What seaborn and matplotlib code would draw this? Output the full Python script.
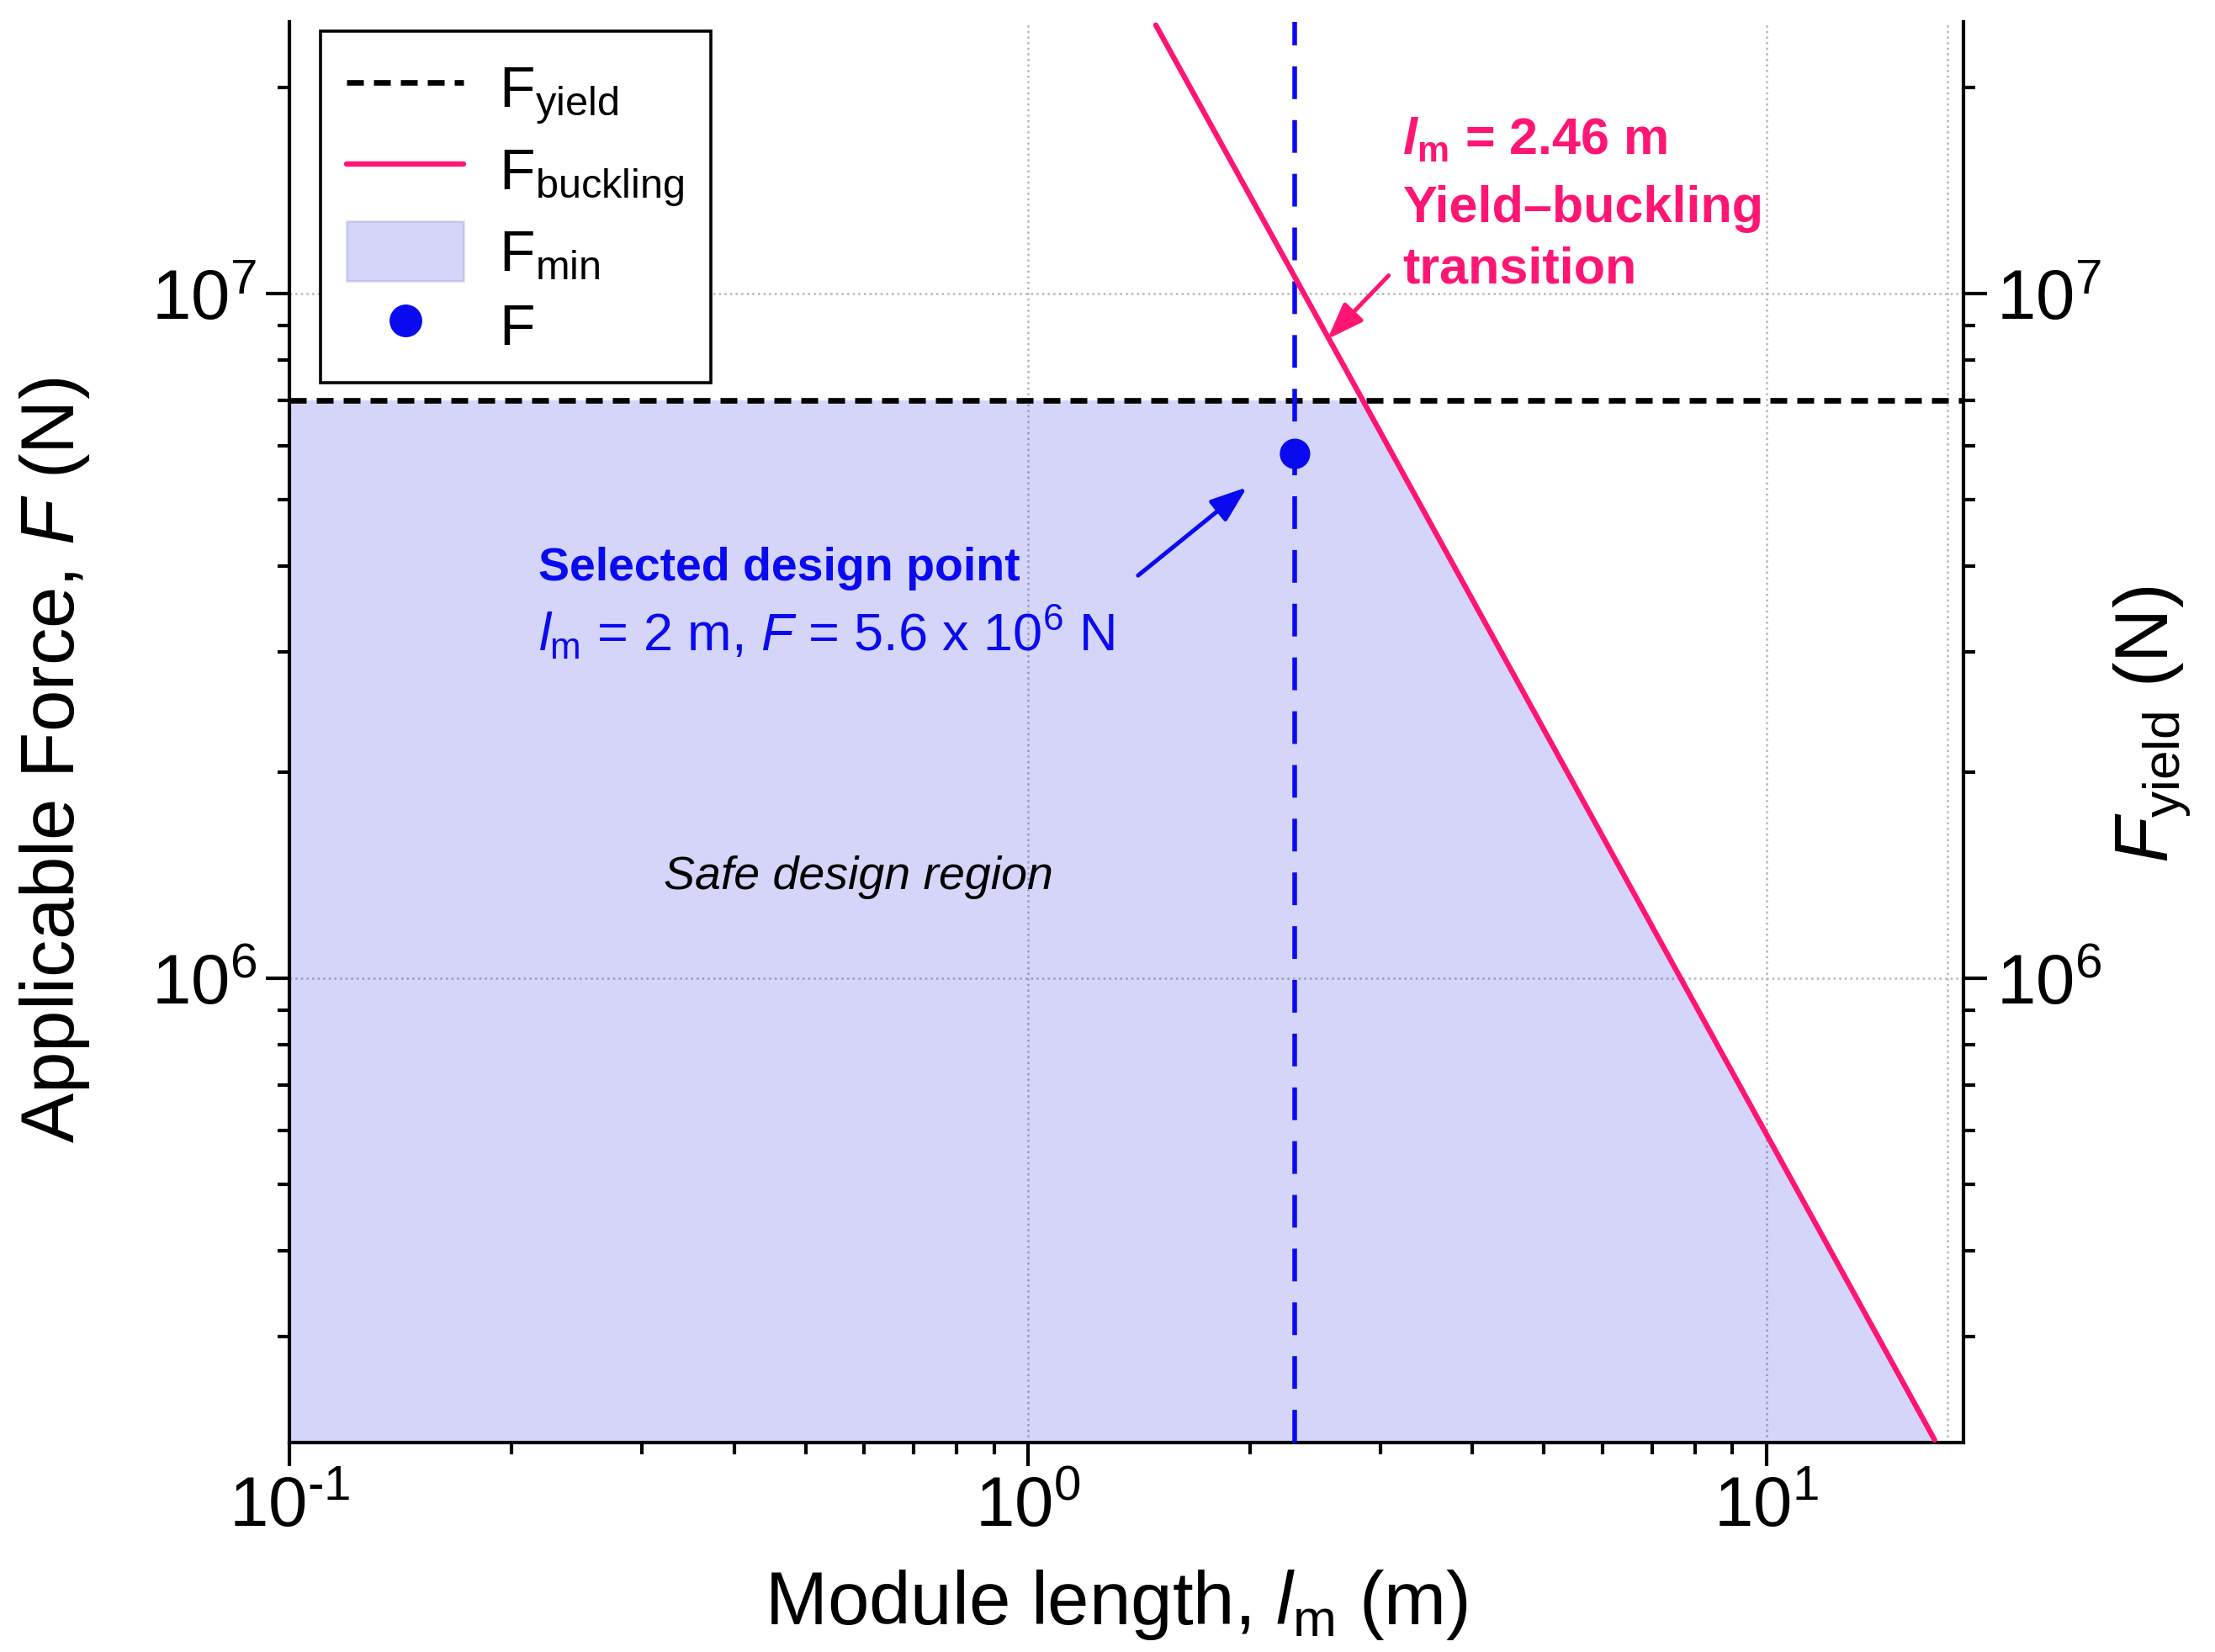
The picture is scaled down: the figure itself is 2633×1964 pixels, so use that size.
import numpy as np
import matplotlib
matplotlib.use('Agg')
import matplotlib.pyplot as plt
import seaborn as sns
from matplotlib.patches import Patch
from matplotlib.lines import Line2D
from matplotlib.ticker import NullFormatter, FuncFormatter

sns.set_style('ticks')
plt.rcParams['font.family'] = ['Liberation Sans', 'DejaVu Sans']
plt.rcParams['mathtext.fontset'] = 'custom'
plt.rcParams['mathtext.rm'] = 'Liberation Sans'
plt.rcParams['mathtext.it'] = 'Liberation Sans:italic'
plt.rcParams['mathtext.bf'] = 'Liberation Sans:bold'
plt.rcParams['mathtext.bfit'] = 'Liberation Sans:italic:bold'
plt.rcParams['axes.unicode_minus'] = False
for k in ['text.color', 'axes.labelcolor', 'xtick.color', 'ytick.color', 'axes.edgecolor']:
    plt.rcParams[k] = 'black'

# axis ranges
l_range = [0.1, 18.5]
F_range = [2.1e5, 2.5e7]

# yield force (horizontal)
F_yield = 7.0e6

# buckling force vs module length
buckling_l = [1.49, 2.84, 7.66, 16.9]
buckling_F = [2.47e7, 7.0e6, 1.0e6, 2.12e5]

# upper edge of the safe region (F_min)
fmin_l = [0.1, 2.84, 7.66, 16.9]
fmin_F = [7.0e6, 7.0e6, 1.0e6, 2.12e5]

# selected design point
design_l = 2.30
design_F = 5.84e6

# extra grid line near right edge
extra_grid_l = 17.6

pink = '#FF1574'
blue = '#0A0AF0'
fill_col = '#2020E0'


def pow10(v, pos):
    e = int(round(np.log10(v)))
    if e < 0:
        return r'$\mathdefault{10^{\text{-}%d}}$' % (-e)
    return r'$\mathdefault{10^{%d}}$' % e


fig = plt.figure(figsize=(13.165, 9.82), dpi=200)
ax = fig.add_axes([0.1307, 0.1267, 0.7558, 0.8603])
ax.set_xscale('log')
ax.set_yscale('log')

ax.fill_between(fmin_l, fmin_F, F_range[0], color=fill_col, alpha=0.19, lw=0, zorder=1)
ax.axhline(F_yield, color='black', lw=2.4, ls=(0, (3, 1.8)), zorder=3)
sns.lineplot(x=buckling_l, y=buckling_F, ax=ax, color=pink, lw=2.3, zorder=4)
ax.axvline(design_l, color=blue, lw=2.0, ls=(0, (7, 4.5)), zorder=3)
sns.scatterplot(x=[design_l], y=[design_F], ax=ax, color=blue, s=170,
                edgecolor='none', zorder=5)

ax.set_xlim(l_range)
ax.set_ylim(F_range)

# grid
ax.grid(True, which='major', ls=':', color='#B5B5B5', lw=0.9)
ax.axvline(extra_grid_l, ls=':', color='#B5B5B5', lw=0.9, zorder=0.5)

# ticks / spines
ax.tick_params(which='both', direction='out', width=1.5, labelsize=30, pad=4,
               top=False, right=False)
ax.tick_params(which='major', length=10)
ax.tick_params(which='minor', length=5)
ax.xaxis.set_major_formatter(FuncFormatter(pow10))
ax.xaxis.set_minor_formatter(NullFormatter())
ax.yaxis.set_minor_formatter(NullFormatter())
for s in ['top', 'right']:
    ax.spines[s].set_visible(False)
for s in ['left', 'bottom']:
    ax.spines[s].set_linewidth(1.5)

ax2 = ax.twinx()
ax2.set_yscale('log')
ax2.set_ylim(F_range)
ax2.tick_params(which='both', direction='out', width=1.5, labelsize=30, pad=4)
ax2.tick_params(which='major', length=10)
ax2.tick_params(which='minor', length=5)
ax2.yaxis.set_minor_formatter(NullFormatter())
for s in ['top', 'left', 'bottom']:
    ax2.spines[s].set_visible(False)
ax2.spines['right'].set_linewidth(1.5)

# labels
ax.set_xlabel(r'Module length, $l_\mathrm{m}$ (m)', fontsize=32)
ax.xaxis.set_label_coords(0.494, -0.088)
ax.set_ylabel(r'Applicable Force, $F$ (N)', fontsize=32)
ax.yaxis.set_label_coords(-0.118, 0.48)
ax2.set_ylabel(r'$F_\mathrm{yield}$ (N)', fontsize=32)
ax2.yaxis.set_label_coords(1.0886, 0.505)

# transition annotation
pink_lines = [r'$\mathbfit{l}_\mathbf{m}$ = 2.46 m', 'Yield–buckling', 'transition']
pink_y = [0.9065, 0.8587, 0.816]
for txt, yy in zip(pink_lines, pink_y):
    ax.text(0.665, yy, txt, transform=ax.transAxes, ha='left', va='baseline',
            color=pink, fontsize=22, fontweight='bold')
ax.annotate('', xy=(2.545, 8.59e6), xytext=(3.08, 1.064e7),
            arrowprops=dict(arrowstyle='-|>,head_length=0.6,head_width=0.22',
                            color=pink, lw=1.8, mutation_scale=22,
                            shrinkA=0, shrinkB=0))

# design point annotation
ax.text(0.1485, 0.607, 'Selected design point', transform=ax.transAxes,
        ha='left', va='baseline', color=blue, fontsize=20, fontweight='bold')
ax.text(0.1485, 0.557, r'$l_\mathrm{m}$ = 2 m, $F$ = 5.6 x 10$^6$ N',
        transform=ax.transAxes, ha='left', va='baseline', color=blue,
        fontsize=22.7)
ax.annotate('', xy=(1.98, 5.22e6), xytext=(1.41, 3.88e6),
            arrowprops=dict(arrowstyle='-|>,head_length=0.6,head_width=0.22',
                            color=blue, lw=1.8, mutation_scale=22,
                            shrinkA=0, shrinkB=0))

ax.text(0.340, 0.398, 'Safe design region', transform=ax.transAxes,
        ha='center', va='center', fontsize=20, style='italic')

# legend
handles = [
    Line2D([], [], color='black', lw=2.4, ls=(0, (3, 1.8))),
    Line2D([], [], color=pink, lw=2.3),
    Patch(facecolor=fill_col, alpha=0.19, edgecolor='#5050B0', lw=1),
    Line2D([], [], color=blue, marker='o', ls='none', markersize=13),
]
labels = [r'F$_\mathrm{yield}$', r'F$_\mathrm{buckling}$', r'F$_\mathrm{min}$', 'F']
leg = ax.legend(handles, labels, loc='upper left', bbox_to_anchor=(0.0186, 0.993),
                borderaxespad=0, fontsize=25, frameon=True, fancybox=False,
                edgecolor='black', framealpha=1, handlelength=2.0,
                handleheight=1.2, labelspacing=0.22, borderpad=0.45,
                handletextpad=0.6)
leg.get_frame().set_linewidth(1.3)

fig.savefig('out.png', dpi=200)
